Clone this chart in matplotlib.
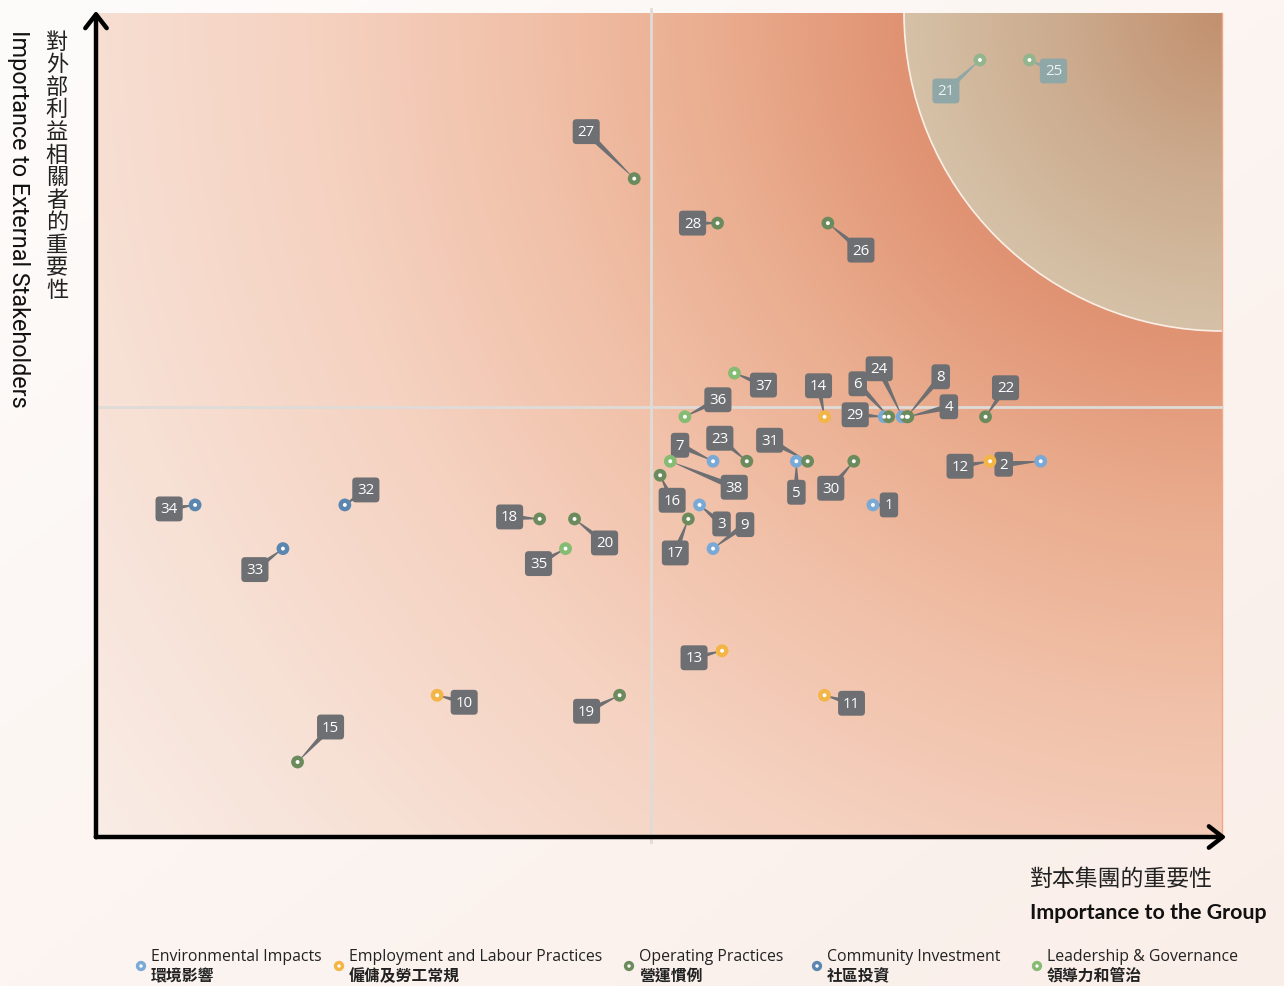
import numpy as np
import matplotlib
matplotlib.use("Agg")
import matplotlib.pyplot as plt
from matplotlib.patches import Ellipse, FancyArrowPatch

# ---------------- data ----------------
issue_ids = list(range(1, 39))
# importance to the group (0-100)
group_imp = [69.0, 83.9, 53.6, 72.1, 62.2, 70.4, 54.8, 72.0, 54.8, 30.3,
             64.7, 79.4, 55.6, 64.7, 17.9, 50.1, 52.6, 39.4, 46.5, 42.5,
             78.5, 79.0, 57.8, 71.6, 82.9, 65.0, 47.8, 55.2, 70.0, 67.3,
             63.2, 22.1, 16.6, 8.8, 41.7, 52.3, 56.7, 51.0]
# importance to external stakeholders (0-100)
ext_imp = [40.3, 45.6, 40.3, 51.0, 45.6, 51.0, 45.6, 51.0, 35.0, 17.2,
           17.2, 45.6, 22.6, 51.0, 9.1, 43.9, 38.6, 38.6, 17.2, 38.6,
           94.3, 51.0, 45.6, 51.0, 94.3, 74.5, 79.9, 74.5, 51.0, 45.6,
           45.6, 40.3, 35.0, 40.3, 35.0, 51.0, 56.3, 45.6]
category = ['E', 'E', 'E', 'O', 'E', 'O', 'E', 'O', 'E', 'L',
            'L', 'L', 'L', 'L', 'O', 'O', 'O', 'O', 'O', 'O',
            'G', 'O', 'O', 'E', 'G', 'O', 'O', 'O', 'E', 'O',
            'O', 'C', 'C', 'C', 'G', 'G', 'G', 'G']

cat_keys = ['E', 'L', 'O', 'C', 'G']
cat_en = ['Environmental Impacts', 'Employment and Labour Practices',
          'Operating Practices', 'Community Investment', 'Leadership & Governance']
cat_zh = ['環境影響', '僱傭及勞工常規', '營運慣例', '社區投資', '領導力和管治']

x_mid = 49.3
y_mid = 52.2

# ---------------- layout / style ----------------
cat_color = {'E': '#7aa9d6', 'L': '#f2b546', 'O': '#6c8b5d',
             'C': '#5a86b0', 'G': '#86bb73'}

# label offsets in pixels (dx, dy up) relative to the point
label_off = {1: (16, 0), 2: (-37, -3), 3: (22, -19), 4: (41, 10), 5: (0, -31),
             6: (-31, 33), 7: (-33, 16), 8: (34, 40), 9: (32, 24), 10: (27, -7),
             11: (27, -8), 12: (-30, -5), 13: (-28, -7), 14: (-6, 31), 15: (33, 35),
             16: (12, -25), 17: (-13, -34), 18: (-30, 2), 19: (-33, -16), 20: (30, -24),
             21: (-34, -31), 22: (20, 29), 23: (-27, 23), 24: (-23, 48), 25: (24, -11),
             26: (33, -27), 27: (-48, 47), 28: (-25, 0), 29: (-29, 2), 30: (-23, -27),
             31: (-38, 21), 32: (21, 15), 33: (-28, -21), 34: (-26, -4), 35: (-27, -15),
             36: (33, 17), 37: (29, -12), 38: (64, -26)}

W, H = 1284, 987
fig = plt.figure(figsize=(W / 100, H / 100), dpi=100)
fig.patch.set_facecolor('#fcf4f0')

# full-figure overlay axes in pixel coordinates (y down) for decorations
bg = fig.add_axes([0, 0, 1, 1], zorder=-5)
bg.set_xlim(0, W)
bg.set_ylim(H, 0)
bg.axis('off')
yy, xx = np.mgrid[0:H:4, 0:W:4]
t = np.clip((xx / W) * 0.5 + (yy / H) * 0.5, 0, 1)
c0 = np.array([0xfe, 0xfc, 0xfb]) / 255
c1 = np.array([0xfa, 0xee, 0xe8]) / 255
page = c0[None, None, :] * (1 - t[..., None]) + c1[None, None, :] * t[..., None]
bg.imshow(page, extent=(0, W, H, 0), aspect='auto', zorder=0)

L, R_, T, B = 96, 1222, 14, 838
ax = fig.add_axes([L / W, (H - B) / H, (R_ - L) / W, (B - T) / H])
ax.set_xlim(0, 100)
ax.set_ylim(0, 100)
ax.axis('off')

# background radial gradient centred at top-right corner
aw, ah = R_ - L, B - T
py, px = np.mgrid[0:ah, 0:aw]
d = np.sqrt((px - aw) ** 2 + (py - 0) ** 2)
stops_d = [0, 330, 500, 700, 900, 1150, 1400]
stops_c = ['#d98762', '#e09474', '#eaac8e', '#f1c1a9', '#f5d1c0', '#f7e0d4', '#f9ede7']
rgb = np.array([matplotlib.colors.to_rgb(c) for c in stops_c])
img = np.stack([np.interp(d, stops_d, rgb[:, k]) for k in range(3)], axis=-1)
ax.imshow(img, extent=(0, 100, 0, 100), aspect='auto', origin='upper', zorder=0)

# highlighted quarter circle
Rpx = 318
ew, eh = 2 * Rpx / aw * 100, 2 * Rpx / ah * 100
ell = Ellipse((100, 100), ew, eh, facecolor='none', edgecolor='none')
ax.add_patch(ell)
ci_stops = [0, 160, 330]
ci_cols = np.array([matplotlib.colors.to_rgb(c) for c in ['#c2906e', '#ccab8e', '#d6c3a9']])
cimg = np.stack([np.interp(d, ci_stops, ci_cols[:, k]) for k in range(3)], axis=-1)
im2 = ax.imshow(cimg, extent=(0, 100, 0, 100), aspect='auto', origin='upper', zorder=1)
im2.set_clip_path(ell)
ax.add_patch(Ellipse((100, 100), ew, eh, facecolor='none', edgecolor='#fbefe6', lw=1.2, zorder=1.5))
ax.plot([100, 100], [0, 100], color='#f0a888', lw=1, zorder=1.6, clip_on=False)

# quadrant lines
ax.plot([x_mid, x_mid], [-0.6, 100.5], color='#dedbd8', lw=2, zorder=2, clip_on=False)
ax.plot([0, 100], [y_mid, y_mid], color='#dedbd8', lw=2, zorder=2, clip_on=False)


def inside_circle(x, y):
    return ((x - 100) / (ew / 2)) ** 2 + ((y - 100) / (eh / 2)) ** 2 < 1


# leader lines and labels
for i, x, y, c in zip(issue_ids, group_imp, ext_imp, category):
    dx, dy = label_off[i]
    inside = inside_circle(x, y)
    box_col = '#8fa7a6' if inside else '#6e6f72'
    txt_col = '#eef2f2' if inside else 'white'
    ax.annotate(str(i), xy=(x, y), xytext=(dx, dy), textcoords='offset pixels',
                ha='center', va='center', fontsize=10.8, color=txt_col,
                family='Open Sans', zorder=4,
                bbox=dict(boxstyle='round,pad=0.33,rounding_size=0.25',
                          fc=box_col, ec='none'),
                arrowprops=dict(arrowstyle='wedge,tail_width=0.4,shrink_factor=0.6',
                                fc=box_col, ec='none', lw=0,
                                patchA=None, shrinkA=0, shrinkB=0))

# markers
for k in cat_keys:
    xs = [x for x, c in zip(group_imp, category) if c == k]
    ys = [y for y, c in zip(ext_imp, category) if c == k]
    cols = ['#93b58d' if inside_circle(x, y) else cat_color[k] for x, y in zip(xs, ys)]
    ax.scatter(xs, ys, s=85, c=cols, edgecolors='none', zorder=5)
ax.scatter(group_imp, ext_imp, s=8, c='white', edgecolors='none', zorder=6)


# axes arrows (figure pixel coords, y up)
def fpx(x, y):
    return (x, H - y)


for a, b in [((96, 841), (96, 9)), ((93, 838), (1229, 838))]:
    arr = FancyArrowPatch(fpx(*a), fpx(*b), transform=None,
                          arrowstyle='->,head_length=0.45,head_width=0.35',
                          mutation_scale=22, lw=3.2, color='black', zorder=10)
    fig.add_artist(arr)

# axis titles
zh_y = '對外部利益相關者的重要性'
for i, ch in enumerate(zh_y):
    bg.text(57, 42 + i * 22.6, ch, ha='center', va='center', fontsize=16,
            family='Noto Sans CJK TC', color='#222222', zorder=5)
bg.text(18, 30, 'Importance to External Stakeholders', rotation=-90,
        ha='center', va='top', fontsize=16.8, family='Roboto', color='#111111', zorder=5)
bg.text(1030, 879, '對本集團的重要性', ha='left', va='center', fontsize=16.5,
        family='Noto Sans CJK TC', color='#222222', zorder=5)
bg.text(1030, 913, 'Importance to the Group', ha='left', va='center', fontsize=15.4,
        family='Lato', weight='bold', color='#111111', zorder=5)

# legend
leg_mx = [141, 339, 629, 817, 1037]
for mx, k, en, zh in zip(leg_mx, cat_keys, cat_en, cat_zh):
    bg.scatter([mx], [967], s=55, c=cat_color[k], edgecolors='none', zorder=5)
    bg.scatter([mx], [967], s=6, c='white', edgecolors='none', zorder=6)
    bg.text(mx + 10, 957, en, ha='left', va='center', fontsize=11.4,
            family='Open Sans', color='#222222', zorder=5)
    bg.text(mx + 10, 976, zh, ha='left', va='center', fontsize=11.4,
            family='Noto Sans CJK TC', weight='bold', color='#222222', zorder=5)

fig.savefig('out.png', dpi=100)
